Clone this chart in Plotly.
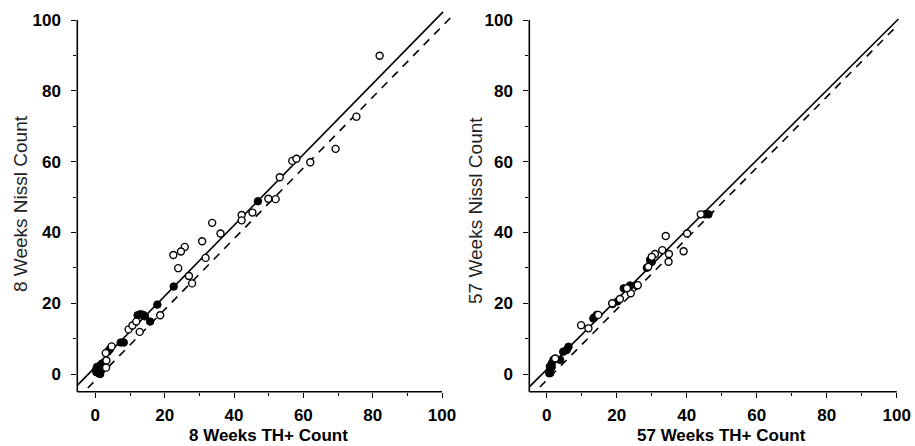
import plotly.graph_objects as go

# ---------------- data ----------------
# 8 weeks panel
w8_open_x = [82.0, 75.3, 69.3, 62.0, 56.8, 58.0, 53.2, 52.0, 49.9, 45.3, 42.2, 42.2, 36.1, 33.7,
             30.8, 31.8, 25.8, 24.7, 22.5, 23.9, 27.0, 27.9, 18.7, 12.8, 9.6, 10.7, 11.8, 4.7,
             3.0, 3.2, 3.1]
w8_open_y = [89.9, 72.7, 63.6, 59.8, 60.2, 60.8, 55.6, 49.4, 49.5, 45.6, 44.9, 43.4, 39.7, 42.7,
             37.5, 32.8, 35.9, 34.6, 33.6, 29.9, 27.7, 25.6, 16.6, 11.9, 12.6, 13.7, 14.8, 7.8,
             5.9, 3.8, 1.8]
w8_fill_x = [46.9, 22.6, 17.9, 15.8, 12.2, 13.0, 13.8, 14.3, 7.3, 8.2, 3.6, 4.2,
             0.3, 0.8, 1.2, 1.5, 2.0, 0.5, 1.8, 1.0, 2.3, 0.2, 1.4]
w8_fill_y = [48.8, 24.7, 19.6, 14.8, 16.6, 16.9, 16.7, 16.3, 8.9, 8.9, 6.3, 7.0,
             0.5, 1.5, 0.8, 2.5, 3.0, 2.0, 1.2, 0.2, 1.8, 1.2, 0.0]

# 57 weeks panel
w57_open_x = [44.0, 40.1, 39.1, 34.0, 34.8, 34.9, 33.0, 30.9, 30.0, 29.0, 26.0, 24.0, 22.9,
              20.9, 18.7, 14.7, 11.9, 9.8, 2.4]
w57_open_y = [45.1, 39.7, 34.7, 39.0, 31.7, 33.9, 35.0, 33.9, 33.1, 30.3, 25.1, 22.8, 24.2,
              21.2, 20.0, 16.7, 12.9, 13.8, 4.4]
w57_fill_x = [46.2, 45.2, 30.0, 29.5, 28.6, 25.7, 23.8, 22.0, 20.2, 18.8, 14.3, 13.6, 13.3,
              6.2, 5.7, 4.7, 3.8, 1.9, 1.4, 1.0, 1.0, 1.4, 0.9, 0.7]
w57_fill_y = [45.1, 45.1, 31.7, 32.2, 30.0, 25.0, 25.0, 24.2, 20.5, 19.8, 16.7, 16.0, 15.7,
              7.7, 6.8, 6.3, 4.0, 4.0, 3.0, 1.1, 0.3, 2.0, 2.1, 0.2]

# fitted (solid) and reference (dashed) lines: slope, intercept, x-extent
w8_fit = dict(slope=1.0, intercept=2.0, x0=-5.2, x1=100.3)
w8_ref = dict(slope=1.0, intercept=-1.8, x0=-5.2, x1=103.5)
w57_fit = dict(slope=0.985, intercept=1.3, x0=-5.0, x1=100.5)
w57_ref = dict(slope=1.0, intercept=-1.7, x0=-5.0, x1=100.5)

tick_vals = [0, 20, 40, 60, 80, 100]
minor_vals = [10, 30, 50, 70, 90]
axis_max = 100

panels = [
    dict(open_x=w8_open_x, open_y=w8_open_y, fill_x=w8_fill_x, fill_y=w8_fill_y,
         fit=w8_fit, ref=w8_ref, xtitle="8 Weeks TH+ Count", ytitle="8 Weeks Nissl Count"),
    dict(open_x=w57_open_x, open_y=w57_open_y, fill_x=w57_fill_x, fill_y=w57_fill_y,
         fit=w57_fit, ref=w57_ref, xtitle="57 Weeks TH+ Count", ytitle="57 Weeks Nissl Count"),
]

# ---------------- layout geometry ----------------
W, H = 915, 446
x_ranges = [[-5.2, 104.0], [-5.0, 101.0]]
y_ranges = [[-5.0, 103.0], [-5.0, 101.0]]
x_domains = [[77.3 / W, 455.9 / W], [529.3 / W, 900.2 / W]]
y_domains = [[(H - 391.7) / H, (H - 9.4) / H], [(H - 391.7) / H, (H - 16.5) / H]]
xtitle_pos = [(268.5 / W, (H - 435) / H), (721 / W, (H - 435) / H)]
ytitle_pos = [(20 / W, (H - 204) / H), (475 / W, (H - 211) / H)]

FONT = "Liberation Sans, Arial, Helvetica, sans-serif"

fig = go.Figure()
shapes = []
annotations = []

for i, p in enumerate(panels):
    xa = "x" if i == 0 else "x2"
    ya = "y" if i == 0 else "y2"
    for ln, dash in ((p["ref"], "8px,7px"), (p["fit"], "solid")):
        xs = [ln["x0"], ln["x1"]]
        ys = [ln["slope"] * v + ln["intercept"] for v in xs]
        fig.add_trace(go.Scatter(x=xs, y=ys, mode="lines", xaxis=xa, yaxis=ya,
                                 line=dict(color="black", width=1.6, dash=dash),
                                 showlegend=False, hoverinfo="skip"))
    fig.add_trace(go.Scatter(x=p["fill_x"], y=p["fill_y"], mode="markers", xaxis=xa, yaxis=ya,
                             marker=dict(symbol="circle", size=7.5, color="black",
                                         line=dict(color="black", width=1)),
                             showlegend=False, cliponaxis=False))
    fig.add_trace(go.Scatter(x=p["open_x"], y=p["open_y"], mode="markers", xaxis=xa, yaxis=ya,
                             marker=dict(symbol="circle", size=7, color="white",
                                         line=dict(color="black", width=1.4)),
                             showlegend=False, cliponaxis=False))

    xr, yr = x_ranges[i], y_ranges[i]
    fx = (axis_max - xr[0]) / (xr[1] - xr[0])
    fy = (axis_max - yr[0]) / (yr[1] - yr[0])
    xd = "x domain" if i == 0 else "x2 domain"
    yd = "y domain" if i == 0 else "y2 domain"
    shapes.append(dict(type="line", xref=xd, yref=yd, x0=0, x1=fx, y0=0, y1=0,
                       line=dict(color="black", width=1.6), layer="above"))
    shapes.append(dict(type="line", xref=xd, yref=yd, x0=0, x1=0, y0=0, y1=fy,
                       line=dict(color="black", width=1.6), layer="above"))

    axis_common = dict(showgrid=False, zeroline=False, showline=False,
                       ticks="outside", ticklen=5, tickwidth=1.4, tickcolor="black",
                       tickvals=tick_vals, ticktext=[str(v) for v in tick_vals],
                       minor=dict(tickvals=minor_vals, ticks="outside", ticklen=3,
                                  tickwidth=1, tickcolor="black"),
                       tickfont=dict(family=FONT, size=17, color="black", weight="bold"))
    xkey = "xaxis" if i == 0 else "xaxis2"
    ykey = "yaxis" if i == 0 else "yaxis2"
    fig.update_layout(**{
        xkey: dict(axis_common, range=xr, domain=x_domains[i], anchor=ya,
                   ticklabelstandoff=3),
        ykey: dict(axis_common, range=yr, domain=y_domains[i], anchor=xa,
                   ticklabelstandoff=7),
    })
    annotations.append(dict(text=p["xtitle"], xref="paper", yref="paper",
                            x=xtitle_pos[i][0], y=xtitle_pos[i][1],
                            xanchor="center", yanchor="middle", showarrow=False,
                            font=dict(family=FONT, size=17, color="black", weight="bold")))
    annotations.append(dict(text=p["ytitle"], xref="paper", yref="paper",
                            x=ytitle_pos[i][0], y=ytitle_pos[i][1], textangle=-90,
                            xanchor="center", yanchor="middle", showarrow=False,
                            font=dict(family=FONT, size=19, color="#222")))

fig.update_layout(width=W, height=H, margin=dict(l=0, r=0, t=0, b=0, autoexpand=False),
                  paper_bgcolor="white", plot_bgcolor="white",
                  shapes=shapes, annotations=annotations, showlegend=False)

fig.write_html("out.html", config={"displayModeBar": False},
               post_script="document.body.style.margin='0px';document.body.style.overflow='hidden';")
